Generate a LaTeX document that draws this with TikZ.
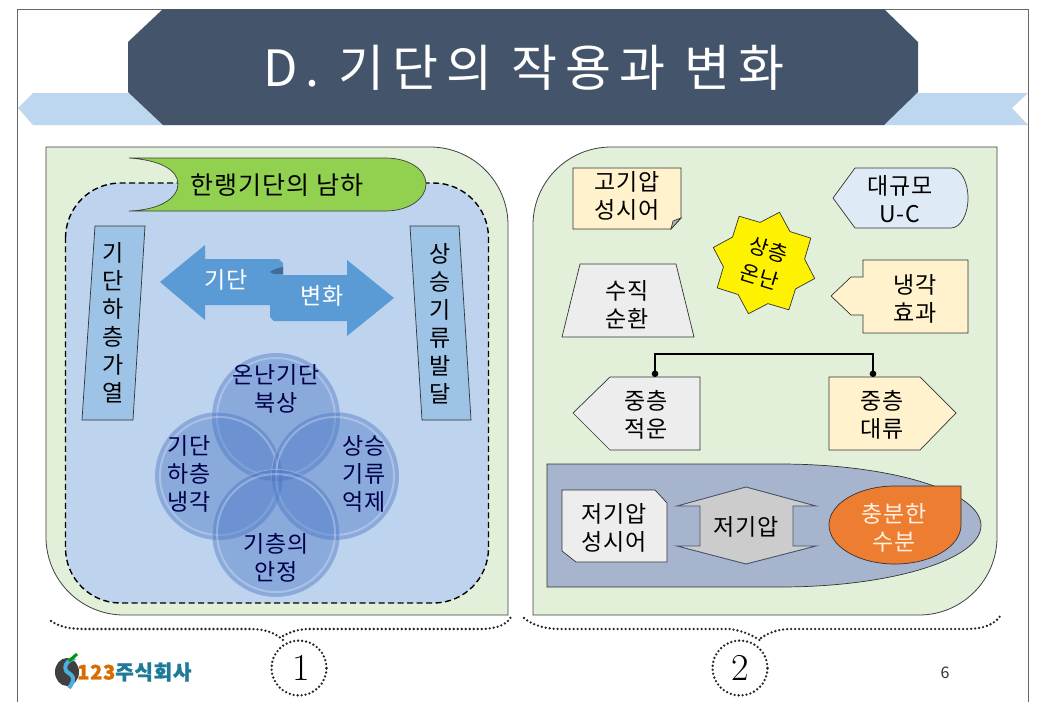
\documentclass[tikz,border=0pt]{standalone}
\usepackage{fontspec}
\setmainfont[LetterSpace=4]{Noto Sans CJK KR}
\newfontfamily\serifnum{Latin Modern Roman}
\usetikzlibrary{shapes.geometric,arrows.meta}

\definecolor{slateHead}{HTML}{44546A}
\definecolor{ribbonBlue}{HTML}{BDD7EE}
\definecolor{panelGreen}{HTML}{E2EFD9}
\definecolor{poolBlue}{HTML}{BDD3EE}
\definecolor{barBlue}{HTML}{9DC3E6}
\definecolor{arrowBlue}{HTML}{5B9BD5}
\definecolor{bubbleBlue}{HTML}{4472C4}
\definecolor{leafGreen}{HTML}{92D050}
\definecolor{warmCream}{HTML}{FFF2CC}
\definecolor{paleGrey}{HTML}{EDEDED}
\definecolor{paleBlue}{HTML}{DEEAF6}
\definecolor{duskBlue}{HTML}{A6B4CD}
\definecolor{rustOrange}{HTML}{ED7D31}
\definecolor{logoTeal}{HTML}{1F7A99}

\begin{document}
\begin{tikzpicture}[
  x=1pt, y=-1pt,
  lbl/.style={font=\fontsize{23}{28}\selectfont, align=center, inner sep=0pt},
  panel/.style={draw=black!75, line width=.8pt, fill=panelGreen},
  boxline/.style={draw=black!80, line width=.7pt},
  bubble/.style={circle, minimum size=127pt, inner sep=0pt, draw=bubbleBlue!60, line width=.8pt,
    fill=bubbleBlue, fill opacity=.42},
  dotline/.style={draw=black!85, line width=2.6pt, line cap=round, dash pattern=on 0pt off 4pt},
  tagring/.style={circle, minimum size=55pt, inner sep=0pt, dotline},
]

  \useasboundingbox (0,0) rectangle (1048,702);
  \fill [white] (0,0) rectangle (1048,702);

  % slide and heading
  \draw [black!60, line width=.9pt] (17.5,702) -- (17.5,9) -- (1028,9) -- (1028,702);
  \fill [ribbonBlue] (33,93) -- (18,108) -- (33,125) -- (884,125) -- (1028,125)
    -- (1012,108) -- (1028,93) -- (33,93) -- cycle;
  \fill [slateHead] (163,9) -- (884,9) -- (918,42) -- (918,92) -- (884,125)
    -- (163,125) -- (128,92) -- (128,42) -- cycle;
  \node [white, inner sep=0pt, font=\fontsize{50}{54}\selectfont\addfontfeature{LetterSpace=16}] (headline) at (524,68)
    {D. 기단의 작용과 변화};

  % left panel
  \draw [panel] (46,147) -- (430,147) arc [start angle=270, end angle=360, radius=78]
    -- (508,615) -- (124,615) arc [start angle=90, end angle=180, radius=78] -- cycle;
  \draw [black, fill=poolBlue, line width=1.4pt, dash pattern=on 6pt off 3.5pt]
    (65.5,238) arc [start angle=180, end angle=270, radius=55] -- (433.5,183)
    arc [start angle=270, end angle=360, radius=55] -- (488.5,548)
    arc [start angle=0, end angle=90, radius=55] -- (120.5,603)
    arc [start angle=90, end angle=180, radius=55] -- cycle;
  \draw [black!75, fill=leafGreen, line width=.7pt]
    (129,158) .. controls (160,160) and (178,170) .. (178,184)
    .. controls (178,198) and (160,210) .. (129,211) -- (385,211)
    .. controls (410,211) and (426,198) .. (426,184)
    .. controls (426,170) and (410,158) .. (385,158) -- cycle;
  \node [lbl, font=\fontsize{25}{28}\selectfont] (coldAir) at (277,185) {한랭기단의 남하};

  % side bars
  \draw [boxline, fill=barBlue] (95,226) -- (145,226) -- (133,420) -- (82,420) -- cycle;
  \draw [boxline, fill=barBlue] (410,226) -- (459,226) -- (471,420) -- (422,420) -- cycle;
  \node [lbl] (heatBar) at (113,323) {기\\단\\하\\층\\가\\열};
  \node [lbl] (riseBar) at (440,324) {상\\승\\기\\류\\발\\달};

  % double arrow
  \fill [arrowBlue] (160,282) -- (205,245) -- (205,259) -- (279,259) -- (283,263) -- (283,275)
    -- (347,275) -- (347,260) -- (394,298) -- (347,336) -- (347,321) -- (274,321) -- (270,317)
    -- (270,305) -- (205,305) -- (205,320) -- cycle;
  \fill [arrowBlue!70!black] (270,272) .. controls (273,269) and (279,268) .. (283,267) -- (283,274) -- (274,274) -- cycle;
  \node [lbl, white] (massTag) at (226,280) {기단};
  \node [lbl, white] (turnTag) at (322,296) {변화};

  % four bubbles
  \foreach \nm/\cx/\cy in {bubTop/276/417, bubLeft/219/476, bubRight/335/476, bubLow/276/533} {
    \node [bubble] (\nm) at (\cx,\cy) {};
    \draw [white, opacity=.28, line width=2pt] (\cx,\cy) circle [radius=59];
  }
  \node [lbl, text=black!70!blue] (warmNorth) at (276,389) {온난기단\\북상};
  \node [lbl, text=black!70!blue] (lowCool) at (189,473.5) {기단\\하층\\냉각};
  \node [lbl, text=black!70!blue] (riseStop) at (364,473.5) {상승\\기류\\억제};
  \node [lbl, text=black!70!blue] (stableAir) at (276,557.5) {기층의\\안정};

  % right panel
  \draw [panel] (611,147) -- (997,147) -- (997,537) arc [start angle=0, end angle=90, radius=78]
    -- (533,615) -- (533,225) arc [start angle=180, end angle=270, radius=78] -- cycle;

  \draw [boxline, fill=warmCream] (573,168) -- (681,168) -- (681,218) -- (671,229) -- (573,229) -- cycle;
  \draw [boxline, fill=black!30] (681,218) -- (673,221) -- (671,229) -- cycle;
  \node [lbl] (highShear) at (627,196) {고기압\\성시어};

  \draw [boxline, fill=paleBlue] (833,198) -- (855,168) -- (951,168)
    arc [start angle=270, end angle=450, x radius=17, y radius=30] -- (855,228) -- cycle;
  \node [lbl] (bigTrough) at (900,199) {대규모\\U-C};

  \node [star, star points=8, star point ratio=1.3, rotate=-17, minimum size=106pt, inner sep=0pt,
    boxline, fill=yellow, lbl, font=\fontsize{21}{29}\selectfont] (warmStar) at (764,263) {상층\\온난};

  \draw [boxline, fill=paleGrey] (580,264) -- (676,264) -- (694,337) -- (562,337) -- cycle;
  \node [lbl] (vertLoop) at (627,305) {수직\\순환};

  \draw [boxline, fill=warmCream] (863,260) -- (968,260) -- (968,333) -- (863,333) -- (863,315)
    -- (851,315) -- (831,296) -- (851,277) -- (863,277) -- cycle;
  \node [lbl] (coolEffect) at (915,299) {냉각\\효과};

  \draw [boxline, fill=paleGrey] (573,413) -- (610,377) -- (700,377) -- (700,450) -- (610,450) -- cycle;
  \node [lbl] (midCloud) at (646,415) {중층\\적운};
  \draw [boxline, fill=warmCream] (829,377) -- (920,377) -- (956,413) -- (920,450) -- (829,450) -- cycle;
  \node [lbl] (midConv) at (882,415) {중층\\대류};

  \coordinate (cloudTop) at (655,377);
  \coordinate (convTop) at (873,377);
  \draw [black, line width=1.8pt, {Circle[length=6.5pt]}-{Circle[length=6.5pt]}]
    (cloudTop) -- ++(0,-23) -| (convTop);

  % lower group
  \draw [boxline, fill=duskBlue] (547,464) -- (780,464)
    arc [start angle=270, end angle=450, x radius=201, y radius=61.5] -- (547,587) -- cycle;
  \draw [boxline, fill=paleGrey] (562,490) -- (655,490) -- (667,503) -- (667,562)
    -- (576,562) -- (562,551) -- cycle;
  \node [lbl] (lowShear) at (614,527.5) {저기압\\성시어};
  \draw [draw=slateHead, line width=.9pt, fill=black!20] (746,487) -- (816,506) -- (793,506) -- (793,546)
    -- (816,546) -- (746,564) -- (677,546) -- (700,546) -- (700,506) -- (677,506) -- cycle;
  \node [lbl] (lowCenter) at (746,527) {저기압};
  \draw [boxline, fill=rustOrange] (895,486) -- (961,486) -- (961,525)
    arc [start angle=0, end angle=270, x radius=66, y radius=39] -- cycle;
  \node [lbl, text=orange!12!white] (moisture) at (894,527.5) {충분한\\수분};

  % braces and tags
  \node [tagring] (tagOne) at (299,668) {};
  \node [tagring] (tagTwo) at (740,668) {};
  \node [inner sep=0pt, font=\serifnum\fontsize{38}{40}\selectfont] (numOne) at (301,668) {1};
  \node [inner sep=0pt, font=\serifnum\fontsize{38}{40}\selectfont] (numTwo) at (740,668) {2};
  \coordinate (braceOneA) at (51,621);
  \coordinate (braceOneB) at (512,615);
  \coordinate (braceTwoA) at (524,618);
  \coordinate (braceTwoB) at (1001,615);
  \draw [dotline] (braceOneA) .. controls (60,627) and (70,629) .. (85,629) -- (250,629)
    .. controls (268,629) and (276,634) .. (283,640);
  \draw [dotline] (283,636) .. controls (290,632) and (298,629) .. (310,629) -- (480,629)
    .. controls (498,629) and (508,624) .. (braceOneB);
  \draw [dotline] (braceTwoA) .. controls (532,625) and (545,629) .. (560,629) -- (730,629)
    .. controls (745,631) and (755,637) .. (761,641);
  \draw [dotline] (761,638) .. controls (768,633) and (778,629) .. (790,629) -- (965,629)
    .. controls (985,629) and (995,624) .. (braceTwoB);

  % logo and page number
  \fill [black!75] (67,672) ellipse [x radius=12, y radius=14];
  \draw [line width=4pt, arrowBlue!80!cyan] (75,658) .. controls (62,662) and (64,672) .. (70,674)
    .. controls (76,678) and (72,684) .. (69,688);
  \draw [line width=3pt, green!60!black] (69,661) -- (77,654);
  \node [inner sep=0pt, anchor=west, font=\bfseries\fontsize{20}{22}\selectfont\addfontfeature{FakeBold=1.5}, text=logoTeal]
    (logoTag) at (77,672) {\textcolor{orange!85!black}{123}주식회사};
  \node [inner sep=0pt, font=\fontsize{16}{18}\selectfont, text=black!80] (pageNum) at (945,673) {6};

\end{tikzpicture}
\end{document}
